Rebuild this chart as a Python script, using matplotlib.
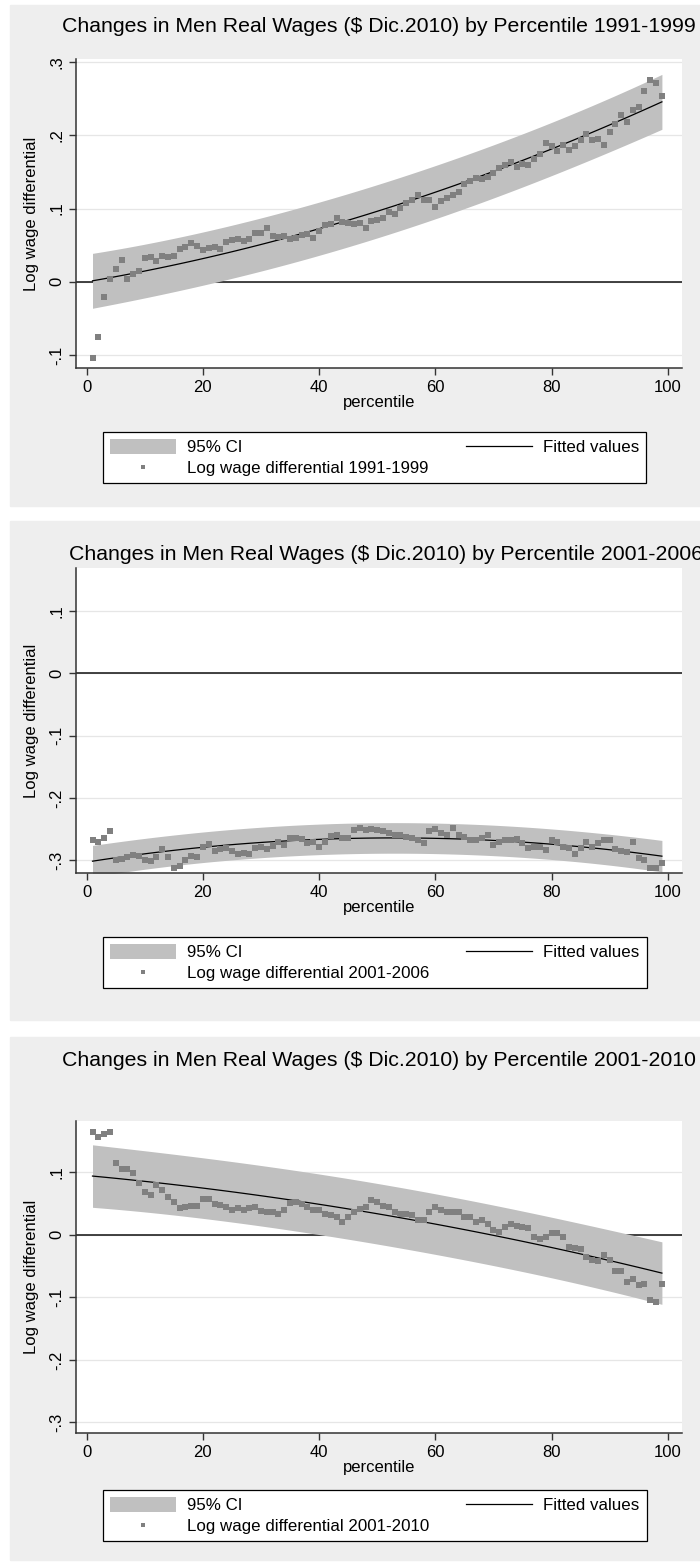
import numpy as np
import matplotlib
matplotlib.use("Agg")
import matplotlib.pyplot as plt
from matplotlib.patches import Rectangle

plt.rcParams["font.family"] = ["Liberation Sans", "DejaVu Sans"]

# ---------------------------------------------------------------- data
percentile = list(range(1, 100))

wage_1991_1999 = [
    -0.104, -0.076, -0.021, 0.004, 0.017, 0.030, 0.004, 0.011, 0.015, 0.033,
    0.034, 0.029, 0.035, 0.034, 0.035, 0.045, 0.047, 0.053, 0.049, 0.044,
    0.046, 0.048, 0.045, 0.054, 0.057, 0.058, 0.055, 0.058, 0.067, 0.067,
    0.073, 0.063, 0.061, 0.063, 0.059, 0.060, 0.064, 0.065, 0.060, 0.069,
    0.078, 0.079, 0.087, 0.081, 0.080, 0.079, 0.080, 0.074, 0.083, 0.085,
    0.087, 0.095, 0.092, 0.101, 0.108, 0.112, 0.119, 0.112, 0.111, 0.102,
    0.110, 0.115, 0.118, 0.123, 0.133, 0.137, 0.141, 0.140, 0.143, 0.149,
    0.155, 0.160, 0.163, 0.157, 0.161, 0.159, 0.168, 0.175, 0.189, 0.186,
    0.179, 0.187, 0.180, 0.185, 0.194, 0.202, 0.194, 0.195, 0.187, 0.204,
    0.216, 0.228, 0.218, 0.235, 0.239, 0.261, 0.276, 0.272, 0.253,
]

wage_2001_2006 = [
    -0.268, -0.271, -0.264, -0.253, -0.300, -0.298, -0.295, -0.292, -0.294, -0.300,
    -0.302, -0.295, -0.282, -0.295, -0.312, -0.310, -0.300, -0.293, -0.295, -0.279,
    -0.274, -0.285, -0.282, -0.280, -0.285, -0.290, -0.288, -0.290, -0.281, -0.279,
    -0.282, -0.277, -0.271, -0.275, -0.265, -0.265, -0.266, -0.272, -0.270, -0.279,
    -0.271, -0.261, -0.260, -0.265, -0.264, -0.251, -0.249, -0.252, -0.250, -0.251,
    -0.253, -0.256, -0.259, -0.260, -0.263, -0.264, -0.268, -0.272, -0.253, -0.250,
    -0.256, -0.259, -0.248, -0.260, -0.262, -0.268, -0.268, -0.264, -0.260, -0.275,
    -0.270, -0.268, -0.268, -0.266, -0.272, -0.280, -0.278, -0.279, -0.284, -0.267,
    -0.270, -0.279, -0.280, -0.290, -0.280, -0.270, -0.278, -0.273, -0.268, -0.268,
    -0.282, -0.285, -0.287, -0.270, -0.296, -0.300, -0.313, -0.313, -0.305,
]

wage_2001_2010 = [
    0.164, 0.157, 0.161, 0.164, 0.115, 0.106, 0.105, 0.099, 0.083, 0.069,
    0.064, 0.080, 0.071, 0.060, 0.052, 0.043, 0.044, 0.046, 0.046, 0.058,
    0.058, 0.049, 0.047, 0.044, 0.040, 0.043, 0.040, 0.043, 0.044, 0.038,
    0.037, 0.036, 0.034, 0.039, 0.051, 0.052, 0.050, 0.044, 0.040, 0.040,
    0.033, 0.031, 0.029, 0.021, 0.028, 0.037, 0.042, 0.045, 0.055, 0.052,
    0.046, 0.044, 0.037, 0.034, 0.033, 0.031, 0.024, 0.024, 0.037, 0.044,
    0.040, 0.037, 0.036, 0.036, 0.029, 0.028, 0.020, 0.024, 0.018, 0.008,
    0.005, 0.012, 0.018, 0.014, 0.013, 0.011, -0.003, -0.006, -0.004, 0.003,
    0.003, -0.003, -0.019, -0.021, -0.023, -0.035, -0.041, -0.042, -0.032, -0.040,
    -0.058, -0.058, -0.076, -0.071, -0.080, -0.079, -0.104, -0.107, -0.079,
]

periods = ["1991-1999", "2001-2006", "2001-2010"]
series = [wage_1991_1999, wage_2001_2006, wage_2001_2010]

yticks_top = [-0.1, 0.0, 0.1, 0.2, 0.3]
ylabels_top = ["-.1", "0", ".1", ".2", ".3"]
yticks_low = [-0.3, -0.2, -0.1, 0.0, 0.1]
ylabels_low = ["-.3", "-.2", "-.1", "0", ".1"]
yticks = [yticks_top, yticks_low, yticks_low]
ylabels = [ylabels_top, ylabels_low, ylabels_low]

xticks = [0, 20, 40, 60, 80, 100]
xlabels = ["0", "20", "40", "60", "80", "100"]

T_CRIT = 1.985  # two-sided 95% Student t, 96 degrees of freedom


def quadratic_fit_band(x, y, grid):
    """Quadratic OLS fit with 95% interval for a new observation."""
    x = np.asarray(x, float)
    y = np.asarray(y, float)
    X = np.column_stack([np.ones_like(x), x, x ** 2])
    beta = np.linalg.lstsq(X, y, rcond=None)[0]
    resid = y - X @ beta
    s2 = resid @ resid / (len(y) - X.shape[1])
    xtx_inv = np.linalg.inv(X.T @ X)
    G = np.column_stack([np.ones_like(grid), grid, grid ** 2])
    fit = G @ beta
    lev = np.einsum("ij,jk,ik->i", G, xtx_inv, G)
    half = T_CRIT * np.sqrt(s2 * (1.0 + lev))
    return fit, fit - half, fit + half


# ---------------------------------------------------------------- layout (pixels)
W, H = 700, 1564
fig = plt.figure(figsize=(W / 100, H / 100), dpi=100)
fig.patch.set_facecolor("white")


def fx(px):
    return px / W


def fy(py):
    return 1 - py / H


BG = "#eeeeee"
BAND = "#c0c0c0"
MARK = "#808080"
AXC = "#333333"

panels = [
    dict(bg=(5, 506), ax=(59, 368), ylim=(-0.1177, 0.3041), title=(379, 27), leg=432),
    dict(bg=(521, 1020), ax=(568, 873), ylim=(-0.3205, 0.169), title=(386, 555), leg=937),
    dict(bg=(1037, 1560), ax=(1121, 1433), ylim=(-0.3168, 0.182), title=(379, 1061), leg=1490),
]

AX_L, AX_R = 76, 682
grid_x = np.linspace(1, 99, 100)

for spec, period, vals, yt, yl in zip(panels, periods, series, yticks, ylabels):
    top, bot = spec["bg"]
    fig.patches.append(Rectangle((fx(10), fy(bot)), fx(700) - fx(10), (bot - top) / H,
                                 transform=fig.transFigure, color=BG, zorder=-10))

    atop, abot = spec["ax"]
    ax = fig.add_axes([fx(AX_L), fy(abot), (AX_R - AX_L) / W, (abot - atop) / H])
    ax.set_zorder(5)
    ax.set_facecolor("white")
    ax.set_xlim(-1.84, 102.46)
    ax.set_ylim(*spec["ylim"])

    fit, lo, hi = quadratic_fit_band(percentile, vals, grid_x)

    ax.axhline(0, color="#222222", lw=1.2, zorder=1.5)
    band = ax.fill_between(grid_x, lo, hi, color=BAND, lw=0, zorder=2)
    line, = ax.plot(grid_x, fit, color="black", lw=0.9, zorder=3)
    sc = ax.scatter(percentile, vals, marker="s", s=19, color=MARK, lw=0, zorder=4)

    ax.set_yticks(yt)
    ax.set_yticklabels(yl, rotation=90, va="center")
    ax.set_xticks(xticks)
    ax.set_xticklabels(xlabels)
    ax.tick_params(length=4.8, width=1, color=AXC, pad=3.5, labelsize=12, labelcolor="black")
    ax.yaxis.grid(True, color="#e6e6e6", lw=0.9)
    ax.set_axisbelow(True)
    for side in ("top", "right"):
        ax.spines[side].set_visible(False)
    for side in ("left", "bottom"):
        ax.spines[side].set_color(AXC)
        ax.spines[side].set_linewidth(1.1)

    ax.set_xlabel("percentile", fontsize=12, labelpad=0)
    ax.set_ylabel("Log wage differential", fontsize=12, va="center")
    ax.yaxis.set_label_coords((32 - AX_L) / (AX_R - AX_L), 0.5)

    tx, ty = spec["title"]
    fig.text(fx(tx), fy(ty), "Changes in Men Real Wages ($ Dic.2010) by Percentile " + period,
             ha="center", va="center", fontsize=15.3)

    leg = ax.legend([band, sc, line],
                    ["95% CI", "Log wage differential " + period, "Fitted values"],
                    loc="upper left", bbox_to_anchor=(fx(103), fy(spec["leg"])),
                    bbox_transform=fig.transFigure, ncol=2, fontsize=12.2,
                    frameon=True, fancybox=False, framealpha=1, edgecolor="black",
                    borderpad=0.4, borderaxespad=0, handlelength=3.9, handleheight=1.05,
                    handletextpad=0.65, columnspacing=2.2, labelspacing=0.25,
                    scatterpoints=1, markerscale=0.8)
    leg.get_frame().set_linewidth(0.9)

fig.savefig("out.png", dpi=100, facecolor="white")
